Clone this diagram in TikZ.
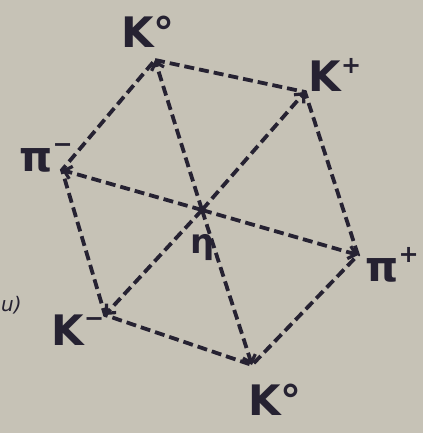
\documentclass[tikz,border=0pt]{standalone}
\usepackage{fontspec}
\setmainfont{DejaVu Sans}
\usetikzlibrary{arrows.meta}
\definecolor{paper}{RGB}{198,194,182}
\definecolor{ink}{RGB}{38,34,50}
\newcommand\supx[1]{\raisebox{.45em}{\fontsize{24}{24}\selectfont #1}}
\begin{document}
\begin{tikzpicture}[x=1pt,y=-1pt,
  edge/.style={draw=ink,line width=3.8pt,dash pattern=on 10pt off 5pt},
  spoke/.style={edge,-{Straight Barb[length=7pt,width=13pt,line width=3.2pt]}},
  lbl/.style={text=ink,font=\fontsize{42}{42}\selectfont\bfseries,inner sep=0pt},
  frag/.style={text=ink,font=\fontsize{20}{20}\selectfont\itshape,inner sep=0pt}]
\fill[paper] (0,0) rectangle (423,433);
\useasboundingbox (0,0) rectangle (423,433);
\coordinate (c) at (202,210);
\coordinate (k0t) at (155,60);
\coordinate (kp) at (305,92);
\coordinate (pip) at (358,255);
\coordinate (k0b) at (252,365);
\coordinate (km) at (105,315);
\coordinate (pim) at (62,170);
\draw[edge] (k0t) -- (kp) -- (pip) -- (k0b) -- (km) -- (pim) -- cycle;
\draw[spoke] (c) -- (k0t);
\draw[spoke] (c) -- (kp);
\draw[spoke] (c) -- (pip);
\draw[spoke] (c) -- (k0b);
\draw[spoke] (c) -- (km);
\draw[spoke] (c) -- (pim);
\node[lbl] (lk0t) at (148,32) {K°};
\node[lbl] (lkp) at (335,75) {K\supx{+}};
\node[lbl] (lpim) at (46,158) {π\supx{−}};
\node[lbl] (lpip) at (392,265) {π\supx{+}};
\node[lbl] (lkm) at (78,330) {K\supx{−}};
\node[lbl] (lk0b) at (275,400) {K°};
\node[text=ink,font=\fontsize{34}{34}\selectfont\bfseries,inner sep=0pt] (eta) at (203,248) {η};
\node[frag,anchor=west] (fr) at (1,305) {u)};
\end{tikzpicture}
\end{document}
